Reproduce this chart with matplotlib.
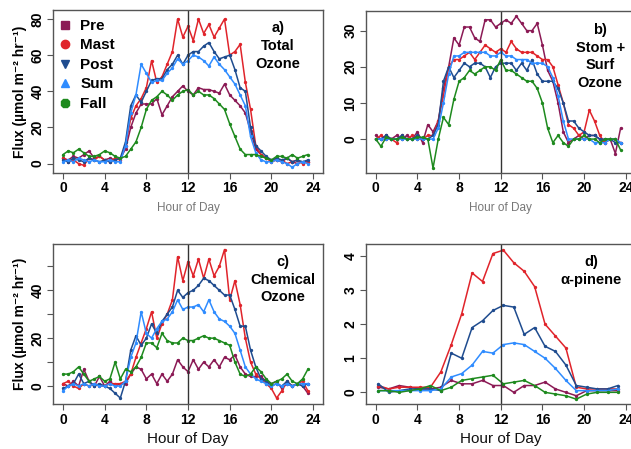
import numpy as np
import matplotlib
matplotlib.use("Agg")
import matplotlib.pyplot as plt
from matplotlib.lines import Line2D

plt.rcParams["font.family"] = ["Liberation Sans", "DejaVu Sans"]

# half-hourly diel fluxes, panels a-c ; hourly for d
hours = np.arange(48) / 2.0
hours_d = np.arange(24) + 0.25

seasons = ["Pre", "Mast", "Post", "Sum", "Fall"]
colors = {"Pre": "#8b1a55", "Mast": "#e0242b", "Post": "#1f4c8f",
          "Sum": "#2f8cff", "Fall": "#1e8a1e"}
legend_markers = {"Pre": "s", "Mast": "o", "Post": "v", "Sum": "^", "Fall": "8"}

# a) total ozone
tot_pre = [3, 2, 4, 3, 5, 7, 3, 4, 2, 3, 2, 3, 8, 20, 28, 33, 33, 33, 36, 27, 32, 37, 40, 43,
           40, 38, 42, 41, 41, 40, 39, 44, 38, 35, 32, 28, 18, 8, 5, 3, 2, 2, 1, 3, 1, 0, 1, 1]
tot_mast = [3, 1, 2, 0, -1, 3, 2, 4, 2, 1, 3, 2, 10, 25, 32, 36, 42, 57, 45, 48, 55, 62, 80, 70,
            76, 68, 80, 72, 77, 70, 75, 80, 60, 62, 66, 45, 30, 10, 5, 3, 1, 2, 2, 0, 1, 2, 0, 1]
tot_post = [2, 1, 3, 2, 1, 3, 2, 1, 2, 1, 2, 3, 12, 32, 38, 34, 40, 46, 47, 47, 52, 55, 60, 55,
            60, 62, 62, 65, 67, 62, 58, 59, 60, 52, 42, 40, 20, 10, 7, 4, 2, 3, 2, 3, 1, 2, 1, 2]
tot_sum = [1, 2, 1, 3, 2, 1, 2, 1, 1, 2, 1, 1, 10, 28, 38, 55, 50, 45, 46, 46, 50, 53, 58, 55,
           57, 60, 59, 57, 54, 59, 55, 52, 48, 44, 38, 32, 15, 6, 2, 1, 1, 2, 1, 0, -2, 0, 1, 0]
tot_fall = [5, 7, 6, 8, 6, 4, 4, 5, 7, 6, 4, 3, 4, 8, 12, 20, 30, 35, 37, 40, 38, 35, 38, 40,
            41, 38, 40, 38, 38, 36, 33, 30, 22, 15, 8, 5, 5, 5, 4, 3, 2, 4, 4, 3, 5, 3, 4, 5]

# b) stomatal + surface ozone
sto_pre = [1, 0, 1, 0, 1, 0, 1, 0, 2, -1, 4, 2, 5, 14, 20, 28, 26, 31, 31, 28, 27, 33, 33, 31,
           32, 33, 32, 34, 32, 30, 30, 32, 26, 19, 16, 10, 2, -1, 0, 1, 0, 1, 1, 0, -1, 0, -4, 3]
sto_mast = [0, 1, 0, 0, -1, 1, 0, 1, 0, 0, 1, 1, 5, 12, 20, 22, 22, 23, 24, 22, 24, 26, 25, 24,
            25, 24, 27, 25, 24, 24, 24, 23, 22, 22, 20, 15, 10, 4, 3, 1, 2, 8, 5, 1, -1, 0, 0, -1]
sto_post = [0, 0, 1, 0, 0, 1, 0, 0, 1, 0, 0, 1, 4, 16, 20, 17, 19, 21, 20, 21, 21, 20, 17, 20,
            21, 21, 21, 19, 21, 19, 22, 18, 16, 16, 16, 14, 10, 5, 5, 3, 2, 1, 1, 0, 0, 0, -1, -1]
sto_sum = [0, 0, 0, 0, 0, 0, 0, 0, 0, 0, 0, 0, 3, 10, 18, 23, 23, 24, 24, 24, 24, 24, 23, 23,
           24, 23, 23, 22, 22, 22, 21, 21, 21, 20, 17, 12, 5, 0, 0, 0, 0, 0, -1, -1, -1, 0, 0, -1]
sto_fall = [0, -2, 0.5, 0, 0, 0.5, 0, 0, 0.5, 0.5, 0, -8, 0, 6, 4, 11, 16, 17, 19, 18, 19, 20, 20, 19,
            22, 19, 19, 18, 17, 16, 16, 14, 10, 3, -1, 1, -1, -2, 0, 0, 1, 0, 0, -1, 0, 0, 0, -3]

# c) chemical ozone
chem_pre = [1, 0, 2, 0, 7, 2, 0, 4, 0, 2, 0, 1, 1, 5, 8, 7, 3, 5, 1, 5, 2, 5, 11, 8,
            6, 11, 7, 10, 8, 11, 8, 12, 11, 13, 8, 5, 4, 4, 4, 2, 1, 2, -1, 1, 0, 1, 0, -3]
chem_mast = [1, 2, 0, -1, 1, 0, 1, 0, 0, 1, 1, 1, 2, 5, 12, 18, 24, 31, 20, 26, 30, 36, 54, 44,
             52, 46, 53, 45, 53, 46, 50, 57, 36, 44, 34, 20, 10, 5, 3, 1, -1, -5, -2, 2, 0, 1, 2, -2]
chem_post = [-1, 0, 1, 5, 1, 2, 0, 1, 0, -1, -3, -5, 2, 15, 21, 17, 20, 26, 22, 27, 30, 33, 40, 37,
             39, 40, 42, 45, 44, 42, 40, 38, 38, 32, 25, 25, 15, 8, 3, 2, 0, 1, 0, 2, 0, 1, 0, 1]
chem_sum = [-2, 0, 1, 0, 1, 0, 1, 0, 0, 1, 0, 0, 2, 12, 18, 31, 22, 20, 24, 27, 28, 31, 36, 32,
            33, 33, 34, 31, 36, 31, 28, 27, 25, 22, 15, 8, 5, 3, 2, 1, 0, 1, 0, 1, 0, 1, 1, 1]
chem_fall = [5, 5, 6, 8, 5, 2, 3, 4, 2, 3, 10, 3, 7, 6, 8, 12, 18, 18, 16, 22, 19, 18, 18, 20,
             19, 19, 20, 21, 20, 20, 19, 18, 17, 10, 5, 4, 5, 8, 6, 3, 1, 2, 3, 5, 2, 1, 3, 7]

# d) alpha-pinene (hourly)
pin_pre = [0.15, 0.1, 0.2, 0.15, 0.1, 0.1, 0.15, 0.35, 0.25, 0.25, 0.35, 0.2,
           0.2, 0.0, 0.2, 0.2, 0.3, 0.1, 0.0, -0.1, 0.05, 0.05, 0.05, 0.05]
pin_mast = [0.2, 0.1, 0.15, 0.15, 0.15, 0.15, 0.6, 1.4, 2.3, 3.5, 3.25, 4.07,
            4.17, 3.8, 3.55, 3.1, 2.0, 1.65, 1.3, 0.15, 0.1, 0.1, 0.1, 0.1]
pin_post = [0.25, 0.0, 0.05, 0.1, 0.1, 0.1, 0.05, 1.15, 1.0, 1.9, 2.1, 2.4,
            2.55, 2.5, 1.7, 1.9, 1.35, 1.2, 0.8, 0.2, 0.15, 0.1, 0.1, 0.2]
pin_sum = [0.05, 0.05, 0.05, 0.05, 0.05, 0.05, 0.1, 0.45, 0.55, 0.8, 1.2, 1.15,
           1.4, 1.45, 1.4, 1.2, 1.0, 0.7, 0.35, 0.05, 0.05, 0.05, 0.05, 0.1]
pin_fall = [0.05, 0.05, 0.0, 0.05, 0.1, 0.2, 0.05, 0.15, 0.35, 0.4, 0.45, 0.5,
            0.25, 0.3, 0.35, 0.2, 0.0, -0.05, -0.1, -0.2, -0.05, 0.0, 0.0, 0.0]

panels = [
    ([0.084, 0.6147, 0.428, 0.363], hours,
     [tot_pre, tot_mast, tot_post, tot_sum, tot_fall], (-5.2, 85), [0, 20, 40, 60, 80],
     [0, 20, 40, 60, 80], "a)\nTotal\nOzone", 0.833, True),
    ([0.5796, 0.6154, 0.428, 0.359], hours,
     [sto_pre, sto_mast, sto_post, sto_sum, sto_fall], (-9.3, 35.3), [0, 10, 20, 30],
     [0, 10, 20, 30], "b)\nStom +\nSurf\nOzone", 0.868, False),
    ([0.084, 0.0996, 0.428, 0.358], hours,
     [chem_pre, chem_mast, chem_post, chem_sum, chem_fall], (-7.6, 59.5),
     [0, 10, 20, 30, 40, 50], [0, 20, 40], "c)\nChemical\nOzone", 0.852, True),
    ([0.5796, 0.0996, 0.428, 0.357], hours_d,
     [pin_pre, pin_mast, pin_post, pin_sum, pin_fall], (-0.35, 4.35), [0, 1, 2, 3, 4],
     [0, 1, 2, 3, 4], "d)\n\u03b1-pinene", 0.834, False),
]

fig = plt.figure(figsize=(6.31, 4.49), dpi=100)
for i, (rect, x, series, ylim, yt, ylab, label, tx, show_ylabel) in enumerate(panels):
    ax = fig.add_axes(rect)
    for s, y in zip(seasons, series):
        ax.plot(x, y, color=colors[s], lw=1.1, marker=".", ms=2.8)
    ax.axvline(12, color="#333333", lw=1)
    ax.set_xlim(-0.96, 24.96)
    ax.set_ylim(*ylim)
    ax.set_xticks(range(0, 25, 4))
    ax.set_yticks(yt)
    ax.set_yticklabels([str(v) if v in ylab else "" for v in yt], rotation=90, va="center")
    ax.tick_params(length=4, width=0.8, color="#555555", labelsize=10, pad=2)
    for t in ax.get_xticklabels() + ax.get_yticklabels():
        t.set_fontweight("bold")
    for sp in ax.spines.values():
        sp.set_color("#555555")
        sp.set_linewidth(1)
    if i < 2:
        ax.set_xlabel("Hour of Day", fontsize=8.5, color="#777777", labelpad=5)
    else:
        ax.set_xlabel("Hour of Day", fontsize=11, color="#111111", labelpad=4)
    if show_ylabel:
        ax.set_ylabel("Flux (\u00b5mol m\u207b\u00b2 hr\u207b\u00b9)", fontsize=10,
                      fontweight="bold", labelpad=3)
    ax.text(tx, 0.93, label, transform=ax.transAxes, ha="center", va="top",
            fontsize=10.5, fontweight="bold", linespacing=1.35)
    if i == 0:
        handles = [Line2D([], [], ls="none", marker=legend_markers[s], color=colors[s], ms=6)
                   for s in seasons]
        ax.legend(handles, seasons, loc="upper left", bbox_to_anchor=(-0.035, 1.03),
                  frameon=False, handlelength=1.0, handletextpad=0.5, labelspacing=0.36,
                  prop={"size": 11, "weight": "bold"})

fig.savefig("out.png", dpi=100)
